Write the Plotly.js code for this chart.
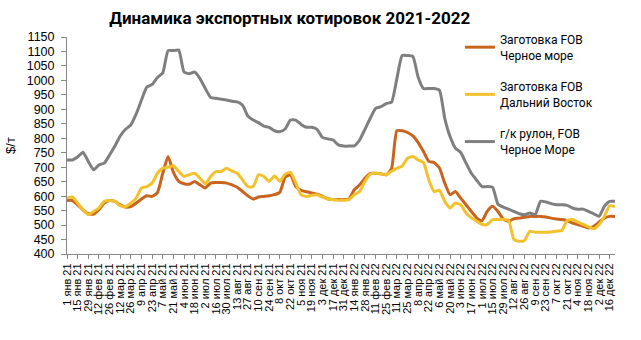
<!DOCTYPE html>
<html>
<head>
<meta charset="utf-8">
<script src="https://cdn.plot.ly/plotly-3.0.1.min.js"></script>
<style>html,body{margin:0;padding:0;background:#fff;}#chart{width:641px;height:340px;}</style>
</head>
<body>
<div id="chart"></div>
<script>
const categories = [
"1 янв 21","8 янв 21","15 янв 21","22 янв 21","29 янв 21","5 фев 21","12 фев 21","19 фев 21","26 фев 21",
"5 мар 21","12 мар 21","19 мар 21","26 мар 21","2 апр 21","9 апр 21","16 апр 21","23 апр 21","30 апр 21",
"7 май 21","14 май 21","21 май 21","28 май 21","4 июн 21","11 июн 21","18 июн 21","25 июн 21",
"2 июл 21","9 июл 21","16 июл 21","23 июл 21","30 июл 21","6 авг 21","13 авг 21","20 авг 21","27 авг 21",
"3 сен 21","10 сен 21","17 сен 21","24 сен 21","1 окт 21","8 окт 21","15 окт 21","22 окт 21","29 окт 21",
"5 ноя 21","12 ноя 21","19 ноя 21","26 ноя 21","3 дек 21","10 дек 21","17 дек 21","24 дек 21","31 дек 21",
"7 янв 22","14 янв 22","21 янв 22","28 янв 22","4 фев 22","11 фев 22","18 фев 22","25 фев 22",
"4 мар 22","11 мар 22","18 мар 22","25 мар 22","1 апр 22","8 апр 22","15 апр 22","22 апр 22","29 апр 22",
"6 май 22","13 май 22","20 май 22","27 май 22","3 июн 22","10 июн 22","17 июн 22","24 июн 22",
"1 июл 22","8 июл 22","15 июл 22","22 июл 22","29 июл 22","5 авг 22","12 авг 22","19 авг 22","26 авг 22",
"2 сен 22","9 сен 22","16 сен 22","23 сен 22","30 сен 22","7 окт 22","14 окт 22","21 окт 22","28 окт 22",
"4 ноя 22","11 ноя 22","18 ноя 22","25 ноя 22","2 дек 22","9 дек 22","16 дек 22","23 дек 22"
];

const billetBlackSea = [
585,585,570,553,539,538,553,576,585,582,570,562,564,576,590,601,599,612,679,737,
682,651,643,641,651,639,628,645,647,647,645,639,631,616,601,590,597,599,601,605,
613,665,674,633,620,615,611,607,599,591,588,588,588,590,622,639,662,679,679,677,
674,695,826,826,820,808,785,754,720,716,697,645,605,616,593,570,547,525,515,548,
565,547,521,513,522,524,527,530,530,530,528,524,521,519,515,507,502,496,490,496,
510,524,530,530
];

const billetFarEast = [
593,597,576,553,536,547,559,582,585,582,567,564,576,593,628,633,645,679,697,700,
705,685,668,674,679,662,642,668,685,685,696,687,679,656,633,633,674,668,651,670,
651,676,682,645,605,599,603,605,597,590,588,586,586,588,605,616,651,676,679,677,
674,686,696,704,731,737,725,716,656,616,620,582,559,576,570,542,525,513,502,502,
519,519,520,516,450,444,447,479,475,475,475,476,479,481,516,519,510,502,494,487,
502,530,567,564
];

const hrcBlackSea = [
725,725,735,752,720,691,708,714,742,773,808,831,846,884,932,977,986,1010,1026,1103,
1103,1105,1029,1023,1029,1006,972,941,938,935,932,928,926,914,877,863,854,842,838,826,
823,832,863,863,848,838,838,831,803,798,794,777,773,773,774,794,831,869,903,909,
920,925,1006,1086,1086,1083,1011,972,972,972,966,869,806,766,751,714,679,655,633,633,
630,572,562,555,547,539,536,542,536,582,580,574,570,570,568,559,555,555,547,539,
530,565,582,582
];

const seriesNames = [
  "Заготовка FOB<br>Черное море",
  "Заготовка FOB<br>Дальний Восток",
  "г/к рулон, FOB<br>Черное Море"
];
const yTicks = [400,450,500,550,600,650,700,750,800,850,900,950,1000,1050,1100,1150];
const xTickLabels = categories.filter((c, i) => i % 2 === 0);

const colors = ["#C8641E", "#F2C12C", "#7F7F7F"];
const data = [billetBlackSea, billetFarEast, hrcBlackSea].map((ys, k) => ({
  x: categories,
  y: ys,
  type: "scatter",
  mode: "lines",
  name: seriesNames[k],
  legendgroup: "g" + k,
  line: {color: colors[k], width: 3, shape: "spline", smoothing: 0.5}
}));

const layout = {
  width: 641, height: 340,
  margin: {l: 67, r: 26, t: 37, b: 86},
  paper_bgcolor: "#fff", plot_bgcolor: "#fff",
  title: {
    text: "<b>Динамика экспортных котировок 2021-2022</b>",
    font: {family: "Roboto, Arial, sans-serif", size: 17, color: "#000"},
    xref: "container", x: 0.452, xanchor: "center",
    yref: "container", y: 0.947, yanchor: "middle"
  },
  xaxis: {
    type: "category",
    range: [0, 103],
    tickmode: "array",
    tickvals: xTickLabels,
    ticktext: xTickLabels,
    tickangle: -90,
    ticks: "outside", ticklen: 4, tickcolor: "#888",
    showline: true, linecolor: "#888", linewidth: 1,
    showgrid: false, zeroline: false,
    tickfont: {family: "Liberation Sans, Arial, sans-serif", size: 11, color: "#000"}
  },
  yaxis: {
    range: [400, 1150],
    tickmode: "array",
    tickvals: yTicks,
    ticks: "outside", ticklen: 5, tickcolor: "#888",
    ticklabelstandoff: 4,
    showline: true, linecolor: "#888", linewidth: 1,
    showgrid: false, zeroline: false,
    tickfont: {family: "Liberation Sans, Arial, sans-serif", size: 12.5, color: "#000"},
    title: {text: "$/т", standoff: 8, font: {family: "Liberation Sans, Arial, sans-serif", size: 13, color: "#000"}}
  },
  showlegend: true,
  legend: {
    x: 0.717, xanchor: "left", y: 1.055, yanchor: "top",
    bgcolor: "rgba(255,255,255,0)",
    tracegroupgap: 13,
    itemwidth: 30,
    font: {family: "Roboto, Arial, sans-serif", size: 12, color: "#000"}
  }
};

Plotly.newPlot("chart", data, layout, {displayModeBar: false, responsive: false});
</script>
</body>
</html>
